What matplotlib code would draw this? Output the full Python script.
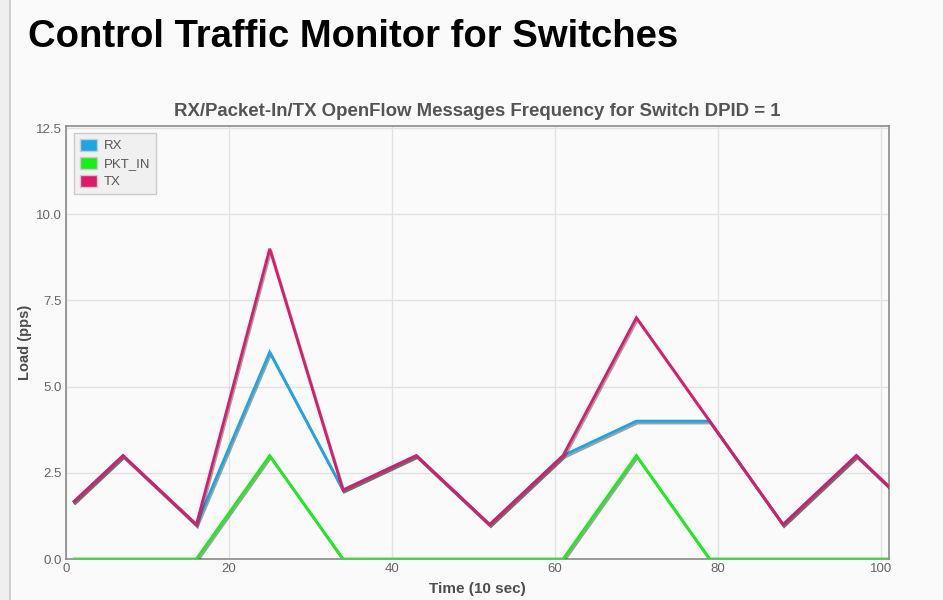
import numpy as np
import matplotlib
matplotlib.use("Agg")
import matplotlib.pyplot as plt
import matplotlib.patheffects as pe
from matplotlib.patches import Rectangle

plt.rcParams['font.family'] = ['Liberation Sans', 'DejaVu Sans']

# data
time = [1, 7, 16, 25, 34, 43, 52, 61, 70, 79, 88, 97, 101]
rx = [1.67, 3, 1, 6, 2, 3, 1, 3, 4, 4, 1, 3, 2.1]
pkt_in = [0, 0, 0, 3, 0, 0, 0, 0, 3, 0, 0, 0, 0]
tx = [1.67, 3, 1, 9, 2, 3, 1, 3, 7, 4, 1, 3, 2.1]

series_names = ['RX', 'PKT_IN', 'TX']
series_colors = ['#1aa7e8', '#19ee19', '#dd1a6e']
x_ticks = [0, 20, 40, 60, 80, 100]
y_ticks = [0.0, 2.5, 5.0, 7.5, 10.0, 12.5]

bg = '#fafafa'
fig = plt.figure(figsize=(9.43, 6.0), dpi=100, facecolor=bg)

# grey strip on the left edge of the page
fig.add_artist(Rectangle((0, 0), 9 / 943, 1, transform=fig.transFigure,
                         facecolor='#efefef', edgecolor='none'))
fig.add_artist(Rectangle((9 / 943, 0), 1.5 / 943, 1, transform=fig.transFigure,
                         facecolor='#cfcfcf', edgecolor='none'))

fig.text(28 / 943, 1 - 37 / 600, 'Control Traffic Monitor for Switches',
         fontsize=27.5, fontweight='bold', color='black', va='center', ha='left')

ax = fig.add_axes([66 / 943, 1 - 559 / 600, (889 - 66) / 943, (559 - 126) / 600])
ax.set_facecolor(bg)
ax.set_xlim(0, 101)
ax.set_ylim(0, 12.56)

ax.set_xticks(x_ticks)
ax.set_yticks(y_ticks)
ax.set_yticklabels(['%.1f' % v for v in y_ticks])
ax.tick_params(length=0, labelsize=9.5, colors='#666666', pad=3)
ax.grid(True, color='#e2e2e2', linewidth=1)
ax.set_axisbelow(True)
for s in ax.spines.values():
    s.set_color('#8a8a8a')
    s.set_linewidth(1.2)

shadow = [pe.SimpleLineShadow(offset=(0.8, -1.4), shadow_color='#333333', alpha=0.45),
          pe.Normal()]
for vals, col in zip([pkt_in, rx, tx],
                     [series_colors[1], series_colors[0], series_colors[2]]):
    ax.plot(time, vals, color=col, linewidth=2.0, solid_joinstyle='miter',
            path_effects=shadow, clip_on=True, zorder=3)

ax.set_title('RX/Packet-In/TX OpenFlow Messages Frequency for Switch DPID = 1',
             fontsize=13.4, fontweight='bold', color='#555555', pad=7)
ax.set_xlabel('Time (10 sec)', fontsize=11, fontweight='bold', color='#4d4d4d', labelpad=5)
ax.set_ylabel('Load (pps)', fontsize=10.5, fontweight='bold', color='#4d4d4d', labelpad=3)

handles = [Rectangle((0, 0), 1, 1, facecolor=c, edgecolor='#cccccc', linewidth=1)
           for c in series_colors]
leg = ax.legend(handles, series_names, loc='upper left', bbox_to_anchor=(0.01, 0.984),
                fontsize=9.5, frameon=True, fancybox=False, handlelength=1.3,
                handleheight=1.0, handletextpad=0.5, labelspacing=0.35,
                borderpad=0.45, borderaxespad=0)
leg.get_frame().set_facecolor('#f0f0f0')
leg.get_frame().set_edgecolor('#cccccc')
leg.get_frame().set_alpha(1)
for t in leg.get_texts():
    t.set_color('#555555')

fig.savefig('out.png', dpi=100, facecolor=bg)
